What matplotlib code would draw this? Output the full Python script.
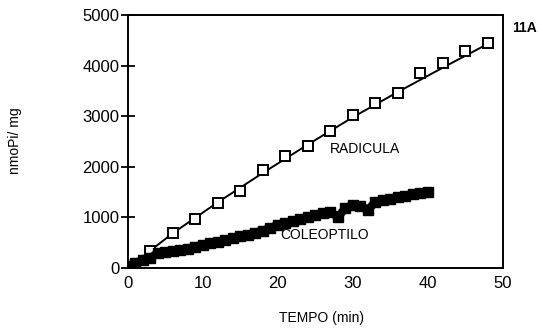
import matplotlib
matplotlib.use("Agg")
import matplotlib.pyplot as plt

plt.rcParams['font.family'] = ['Liberation Sans', 'DejaVu Sans']

# Radicula: open squares (measured points)
rad_t = [0, 3, 6, 9, 12, 15, 18, 21, 24, 27, 30, 33, 36, 39, 42, 45, 48]
rad_v = [0, 340, 700, 960, 1284, 1529, 1940, 2205, 2417, 2702, 3034, 3252, 3465, 3863, 4048, 4292, 4439]

# Radicula fitted curve
fit_t = [0, 6, 12, 18, 24, 30, 36, 42, 48]
fit_v = [0, 690, 1300, 1880, 2440, 2980, 3480, 3960, 4430]

# Coleoptilo: filled squares
col_t = list(range(0, 41))
col_v = [30, 100, 160, 200, 300, 320, 340, 360, 385, 420,
         460, 490, 520, 550, 590, 630, 660, 700, 740, 790,
         850, 880, 930, 970, 1000, 1040, 1080, 1110, 1010, 1180,
         1250, 1230, 1150, 1300, 1340, 1370, 1400, 1430, 1460, 1480, 1500]

xticks = [0, 10, 20, 30, 40, 50]
yticks = [0, 1000, 2000, 3000, 4000, 5000]

fig = plt.figure(figsize=(5.4, 3.28), dpi=100)
ax = fig.add_axes([0.237, 0.183, 0.694, 0.771])

ax.plot(fit_t, fit_v, color='black', lw=1.4, zorder=2)
ax.plot(rad_t, rad_v, ls='none', marker='s', ms=6.5, mfc='white', mec='black', mew=1.4, zorder=3)
ax.plot(col_t, col_v, color='black', lw=6, marker='s', ms=7.5, mfc='black', mec='black', zorder=4)

ax.set_xlim(0, 50)
ax.set_ylim(0, 5000)
ax.set_xticks(xticks)
ax.set_yticks(yticks)
ax.tick_params(axis='x', length=0, pad=6, labelsize=12)
ax.tick_params(axis='y', direction='inout', length=10, width=1.3, pad=1, labelsize=12)
for s in ax.spines.values():
    s.set_linewidth(1.4)

ax.text(27, 2350, 'RADICULA', fontsize=10, va='center', ha='left')
ax.text(20.3, 650, 'COLEOPTILO', fontsize=10, va='center', ha='left')
ax.text(51.2, 4750, '11A', fontsize=10, fontweight='bold', va='center', ha='left')

fig.text(0.596, 0.03, 'TEMPO (min)', fontsize=10, ha='center', va='center')
fig.text(0.027, 0.57, 'nmoPi/ mg', fontsize=10, ha='center', va='center', rotation=90)

fig.savefig('out.png', dpi=100)
